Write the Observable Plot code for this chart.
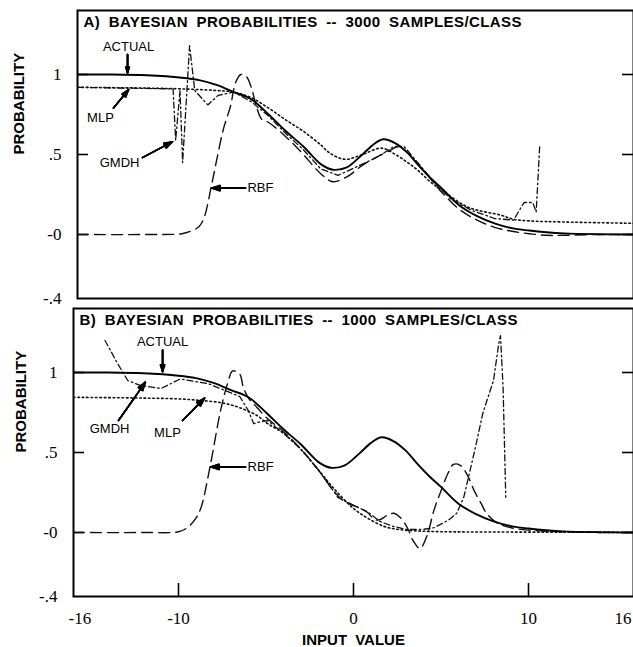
<!DOCTYPE html>
<html>
<head>
<meta charset="utf-8">
<script src="https://cdn.jsdelivr.net/npm/d3@7"></script>
<script src="https://cdn.jsdelivr.net/npm/@observablehq/plot@0.6"></script>
<style>
  body { margin: 0; background: #fff; }
  #wrap { position: relative; width: 633px; height: 647px; overflow: hidden; background: #fff; }
  #wrap svg { position: absolute; left: 0; overflow: visible; }
</style>
</head>
<body>
<div id="wrap"></div>
<script>
const xTickVals = [-16, -10, 0, 10, 16];
const xTickLabels = ["-16", "-10", "0", "10", "16"];
const yTickVals = [1, 0.5, 0, -0.4];
const yTickLabels = ["1", ".5", "-0", "-.4"];

const actualX = [-16, -14, -12, -10, -9, -8, -7, -6, -5, -4, -3, -2, -1.3, -0.5, 0.3, 1, 1.6, 2.3, 3, 3.6, 4.3, 5, 6, 7, 8, 9, 10, 11, 12, 14, 16];
const actualP = [1.0, 1.0, 0.995, 0.98, 0.965, 0.935, 0.89, 0.845, 0.75, 0.645, 0.55, 0.44, 0.405, 0.42, 0.49, 0.56, 0.595, 0.57, 0.51, 0.435, 0.355, 0.285, 0.18, 0.115, 0.07, 0.04, 0.025, 0.014, 0.007, 0.002, 0.0];

const mlpAX = [-16, -12, -10, -8, -7, -6, -5, -4, -3, -2, -1.5, -0.6, 0.4, 1.5, 2.3, 3, 3.6, 4.3, 5, 6.5, 8.4, 9.1, 10, 12, 16];
const mlpAP = [0.92, 0.915, 0.91, 0.9, 0.89, 0.855, 0.79, 0.715, 0.645, 0.56, 0.51, 0.47, 0.5, 0.54, 0.5, 0.45, 0.4, 0.33, 0.275, 0.17, 0.12, 0.095, 0.085, 0.078, 0.07];
const gmdhAX = [-16, -10.5, -10.35, -10.1, -9.95, -9.55, -9.25, -8.5, -7.9, -7, -6, -5, -4, -3, -2, -1.0, 0, 1, 1.5, 2.2, 2.8, 3.5, 4.5, 5.5, 6.7, 8, 9.1, 9.7, 10.2, 10.4, 10.6];
const gmdhAP = [0.92, 0.91, 0.59, 0.9, 0.45, 1.18, 0.9, 0.81, 0.87, 0.89, 0.83, 0.74, 0.63, 0.53, 0.41, 0.37, 0.42, 0.47, 0.5, 0.55, 0.55, 0.46, 0.33, 0.22, 0.15, 0.1, 0.09, 0.2, 0.2, 0.14, 0.55];
const rbfAX = [-16, -12, -10, -9.5, -9, -8.7, -8.3, -8.0, -7.6, -7.2, -6.9, -6.6, -6.3, -6.0, -5.7, -5.4, -5.0, -4, -3, -2, -1.3, -0.5, 0.5, 1.9, 2.5, 3, 4, 5, 6, 7, 8, 9, 10, 11, 12, 14, 16];
const rbfAP = [0, 0, 0.005, 0.02, 0.05, 0.11, 0.3, 0.46, 0.66, 0.8, 0.95, 1.0, 0.99, 0.92, 0.8, 0.72, 0.7, 0.61, 0.5, 0.38, 0.33, 0.36, 0.44, 0.52, 0.55, 0.51, 0.39, 0.26, 0.155, 0.09, 0.045, 0.02, 0.005, -0.005, -0.005, 0, 0];

const mlpBX = [-16, -12, -10, -8.7, -7.5, -6.5, -5.5, -4.9, -4, -3, -2, -1, 0, 0.8, 1.7, 2.5, 3.6, 5, 8, 12, 16];
const mlpBP = [0.845, 0.84, 0.835, 0.825, 0.81, 0.78, 0.73, 0.68, 0.62, 0.52, 0.39, 0.26, 0.15, 0.09, 0.04, 0.02, 0.01, 0.005, 0.003, 0.002, 0];
const gmdhBX = [-14.2, -13.5, -12.9, -12.2, -11.0, -9.9, -8.3, -6.5, -6.0, -5.7, -5.4, -4.9, -4, -3, -2, -0.9, 0, 0.8, 1.5, 2.2, 3, 4, 4.6, 5.4, 5.9, 6.3, 6.9, 7.4, 8.0, 8.3, 8.4, 8.55, 8.7];
const gmdhBP = [1.2, 1.06, 0.95, 0.92, 0.9, 0.96, 0.93, 0.85, 0.76, 0.68, 0.69, 0.7, 0.62, 0.52, 0.39, 0.22, 0.17, 0.13, 0.07, 0.04, 0.02, 0.02, 0.03, 0.075, 0.12, 0.22, 0.5, 0.75, 0.95, 1.18, 1.23, 0.9, 0.22];
const rbfBX = [-16, -12, -10, -9.5, -9, -8.7, -8.2, -7.6, -7.2, -6.9, -6.5, -6.3, -6.0, -5.5, -5, -4, -3, -2, -1.2, -0.6, 0.2, 0.8, 1.2, 1.5, 1.9, 2.3, 2.7, 3.1, 3.4, 3.8, 4.2, 4.6, 5.0, 5.4, 5.7, 6.1, 6.5, 6.9, 7.3, 7.6, 8.2, 9, 10, 12, 16];
const rbfBP = [0, 0, 0.005, 0.03, 0.09, 0.16, 0.41, 0.76, 0.93, 1.01, 0.99, 0.91, 0.84, 0.78, 0.72, 0.63, 0.52, 0.39, 0.27, 0.2, 0.16, 0.125, 0.08, 0.08, 0.105, 0.12, 0.09, 0.025, -0.05, -0.1, -0.02, 0.14, 0.26, 0.37, 0.425, 0.42, 0.36, 0.26, 0.18, 0.12, 0.06, 0.03, 0.015, 0.005, 0];

const titleA = "A) BAYESIAN PROBABILITIES -- 3000 SAMPLES/CLASS";
const titleB = "B) BAYESIAN PROBABILITIES -- 1000 SAMPLES/CLASS";
const yAxisTitle = "PROBABILITY";
const xAxisTitle = "INPUT VALUE";

const labelsA = [
  {text: "ACTUAL", x: -13.06, y: 1.175},
  {text: "MLP", x: -14.68, y: 0.73},
  {text: "GMDH", x: -13.58, y: 0.45},
  {text: "RBF", x: -5.47, y: 0.29}
];
const arrowsA = [
  {x1: -13.12, y1: 1.125, x2: -13.12, y2: 1.01},
  {x1: -13.93, y1: 0.79, x2: -13.06, y2: 0.905},
  {x1: -12.26, y1: 0.48, x2: -10.53, y2: 0.58},
  {x1: -6.33, y1: 0.29, x2: -8.29, y2: 0.29}
];
const labelsB = [
  {text: "ACTUAL", x: -10.91, y: 1.19},
  {text: "GMDH", x: -13.94, y: 0.65},
  {text: "MLP", x: -10.63, y: 0.625},
  {text: "RBF", x: -5.31, y: 0.41}
];
const arrowsB = [
  {x1: -10.91, y1: 1.14, x2: -10.91, y2: 1.005},
  {x1: -13.43, y1: 0.70, x2: -11.89, y2: 0.94},
  {x1: -9.77, y1: 0.70, x2: -8.51, y2: 0.84},
  {x1: -6.17, y1: 0.41, x2: -8.17, y2: 0.41}
];

const SERIF = "'Liberation Serif', 'Times New Roman', Tinos, 'DejaVu Serif', serif";
const SANS = "'Liberation Sans', Arial, sans-serif";
const W = 633;

const rows = (xs, ps) => xs.map((x, i) => ({x, p: ps[i]}));
const yLabelOf = new Map(yTickVals.map((v, i) => [v, yTickLabels[i]]));
const xLabelOf = new Map(xTickVals.map((v, i) => [v, xTickLabels[i]]));
const innerY = yTickVals.filter(v => v > -0.4);
const innerX = xTickVals.slice(1, -1);
const xLeft = xTickVals[0], xRight = xTickVals[xTickVals.length - 1];

function seriesMarks(mlp, gmdh, rbf) {
  return [
    Plot.line(rbf, {x: "x", y: "p", curve: "catmull-rom", stroke: "#111", strokeWidth: 1.4, strokeDasharray: "11,6", clip: true}),
    Plot.line(mlp, {x: "x", y: "p", curve: "catmull-rom", stroke: "#111", strokeWidth: 1.6, strokeDasharray: "1.6,2.8", clip: true}),
    Plot.line(gmdh, {x: "x", y: "p", curve: "linear", stroke: "#111", strokeWidth: 1.3, strokeDasharray: "6,3,1.6,3", clip: true}),
    Plot.line(rows(actualX, actualP), {x: "x", y: "p", curve: "catmull-rom", stroke: "#000", strokeWidth: 1.9, clip: true})
  ];
}

function annotationMarks(labels, arrows) {
  const heads = [6, 14, 22, 30, 38].map(a =>
    Plot.arrow(arrows, {x1: "x1", y1: "y1", x2: "x2", y2: "y2", stroke: "#000", strokeWidth: 1.5, headAngle: a, headLength: 9}));
  return [
    ...heads,
    Plot.text(labels, {x: "x", y: "y", text: "text", fontFamily: SANS, fontSize: 13, fill: "#000", textAnchor: "middle", lineAnchor: "middle"})
  ];
}

function panel({height, marginLeft, marginTop, marginBottom, mlp, gmdh, rbf, title, labels, arrows, bottomAxis, ylabDx}) {
  const fh = height - marginTop - marginBottom;
  const marks = [
    Plot.frame({stroke: "#000", strokeWidth: 2}),
    Plot.text(yTickVals, {y: d => d, frameAnchor: "left", dx: -16, textAnchor: "end", lineAnchor: "middle", text: d => yLabelOf.get(d), fontFamily: SERIF, fontSize: 17, fill: "#000"}),
    // inward ticks on the left and right frame edges
    Plot.ruleY(innerY, {y: d => d, x1: xLeft, x2: xLeft, insetRight: -11, stroke: "#000", strokeWidth: 1.6}),
    Plot.ruleY(innerY, {y: d => d, x1: xRight, x2: xRight, insetLeft: -11, stroke: "#000", strokeWidth: 1.6}),
    Plot.text([yAxisTitle], {frameAnchor: "left", dx: ylabDx, rotate: -90, fontFamily: SANS, fontWeight: "bold", fontSize: 15, fill: "#000"}),
    Plot.text([title], {frameAnchor: "top-left", dx: 6, dy: 12, textAnchor: "start", lineAnchor: "middle", fontFamily: SANS, fontWeight: "bold", fontSize: 15, fill: "#000"}),
    ...seriesMarks(mlp, gmdh, rbf),
    ...annotationMarks(labels, arrows)
  ];
  if (bottomAxis) {
    marks.push(
      Plot.ruleX(innerX, {x: d => d, insetTop: fh - 13, stroke: "#000", strokeWidth: 1.6}),
      Plot.text(xTickVals.slice(0, 1), {x: d => d, frameAnchor: "bottom", dy: 22, dx: -5, textAnchor: "start", lineAnchor: "middle", text: d => xLabelOf.get(d), fontFamily: SERIF, fontSize: 17, fill: "#000"}),
      Plot.text(innerX, {x: d => d, frameAnchor: "bottom", dy: 22, textAnchor: "middle", lineAnchor: "middle", text: d => xLabelOf.get(d), fontFamily: SERIF, fontSize: 17, fill: "#000"}),
      Plot.text(xTickVals.slice(-1), {x: d => d, frameAnchor: "bottom", dy: 22, dx: -2, textAnchor: "end", lineAnchor: "middle", text: d => xLabelOf.get(d), fontFamily: SERIF, fontSize: 17, fill: "#000"}),
      Plot.text([xAxisTitle], {frameAnchor: "bottom", dy: 44, lineAnchor: "middle", fontFamily: SANS, fontWeight: "bold", fontSize: 15, fill: "#000"})
    );
  }
  return Plot.plot({
    width: W, height, marginLeft, marginRight: 0, marginTop, marginBottom,
    x: {domain: [xLeft, xRight], axis: null},
    y: {domain: [-0.4, 1.4], axis: null},
    style: {background: "transparent", overflow: "visible"},
    marks
  });
}

const wrap = document.getElementById("wrap");
const svgA = panel({
  height: 300, marginLeft: 77, marginTop: 10, marginBottom: 2,
  mlp: rows(mlpAX, mlpAP), gmdh: rows(gmdhAX, gmdhAP), rbf: rows(rbfAX, rbfAP),
  title: titleA, labels: labelsA, arrows: arrowsA, bottomAxis: false, ylabDx: -58
});
const svgB = panel({
  height: 347, marginLeft: 73, marginTop: 8, marginBottom: 51,
  mlp: rows(mlpBX, mlpBP), gmdh: rows(gmdhBX, gmdhBP), rbf: rows(rbfBX, rbfBP),
  title: titleB, labels: labelsB, arrows: arrowsB, bottomAxis: true, ylabDx: -52
});
svgA.style.top = "0px";
svgB.style.top = "300px";
wrap.appendChild(svgA);
wrap.appendChild(svgB);

for (const svg of [svgA, svgB]) {
  for (const t of svg.querySelectorAll("text")) {
    if (t.textContent.includes("BAYESIAN")) { t.style.letterSpacing = "0.4px"; t.style.wordSpacing = "4px"; }
    if (t.textContent === xAxisTitle) { t.style.wordSpacing = "4px"; }
  }
}
</script>
</body>
</html>
